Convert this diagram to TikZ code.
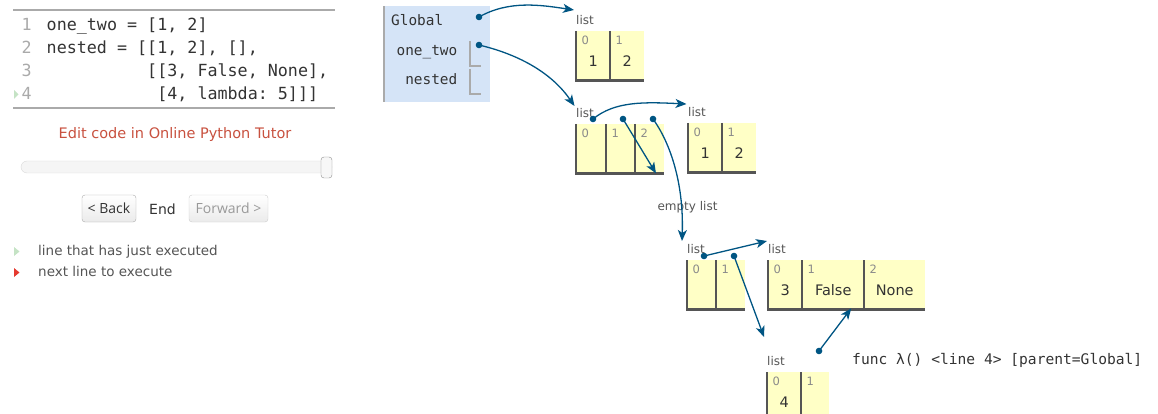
\documentclass[tikz,border=0pt]{standalone}
\usepackage{fontspec}
\setmainfont{DejaVu Sans}
\setmonofont{DejaVu Sans Mono}
\newfontfamily\btnfamily{Open Sans}
\usetikzlibrary{arrows.meta}
\usetikzlibrary{positioning}

\definecolor{ptrblue}{HTML}{005583}
\definecolor{framebg}{HTML}{D5E4F7}
\definecolor{heapbg}{HTML}{FFFFC6}
\definecolor{cellrule}{HTML}{555555}
\definecolor{idxgray}{HTML}{8A8A8A}
\definecolor{txtgray}{HTML}{555555}
\definecolor{darktxt}{HTML}{333333}
\definecolor{rulegray}{HTML}{AAAAAA}
\definecolor{editred}{HTML}{C8513F}
\definecolor{lightgreen}{HTML}{C5E3C5}
\definecolor{nextred}{HTML}{E53A30}

\newcommand\px[1]{\fontsize{#1}{#1}\selectfont}

\tikzset{
  txt/.style={inner sep=0pt, anchor=base west},
  code/.style={txt, font=\ttfamily\px{16.7}, text=darktxt},
  lineno/.style={inner sep=0pt, anchor=base east, font=\ttfamily\px{16.7}, text=rulegray},
  varname/.style={inner sep=0pt, anchor=base east, font=\ttfamily\px{14.4}, text=darktxt},
  lbl/.style={txt, font=\px{12}, text=txtgray},
  cell/.style={fill=heapbg, inner sep=0pt, anchor=north west, minimum height=49pt},
  cellline/.style={draw=cellrule, line width=2.6pt},
  idx/.style={inner sep=0pt, anchor=north west, font=\px{11.5}, text=idxgray},
  val/.style={inner sep=0pt, anchor=base, font=\px{14.5}, text=darktxt},
  ptr/.style={draw=ptrblue, line width=1.3pt, -{Stealth[length=11pt, width=9pt, inset=3pt]}},
  btn/.style={draw=rulegray, rounded corners=3pt, top color=white, bottom color=black!8,
    minimum height=27pt, inner sep=0pt, font=\btnfamily\px{14}},
}

\begin{document}
\begin{tikzpicture}[x=1pt, y=-1pt]
  \useasboundingbox (0,0) rectangle (1158,414);

  \draw[rulegray, line width=2pt] (13,10) -- (335,10);
  \draw[rulegray, line width=2pt] (13,108) -- (335,108);
  \foreach \n/\y in {1/31, 2/54, 3/76.5, 4/100}
    \node[lineno] (ln\n) at (32,\y) {\n};
  \fill[lightgreen] (14,90) -- (18.5,94.5) -- (14,99) -- cycle;
  \node[code] (code1) at (46.5,31) {one\_two = [1, 2]};
  \node[code] (code2) at (46.5,54) {nested = [[1, 2], [],};
  \node[code] (code3) at (46.5,76.5) {\phantom{0000000000}[[3, False, None],};
  \node[code] (code4) at (46.5,100) {\phantom{00000000000}[4, lambda: 5]]]};

  \node[inner sep=0pt, anchor=base, font=\px{14.5}, text=editred] (editlink) at (175,139) {Edit code in Online Python Tutor};

  \node[draw=black!15, fill=black!4, rounded corners=6pt, minimum width=311pt, minimum height=12pt, inner sep=0pt] (track) at (176.5,167) {};
  \node[draw=black!45, fill=black!3, rounded corners=3pt, minimum width=11pt, minimum height=21pt, inner sep=0pt] (knob) at (326.5,167.5) {};

  \node[btn, minimum width=54pt, text=darktxt] (back) at (109,208.5) {< Back};
  \node[txt, font=\px{14}, text=darktxt] (endlbl) at (149,214.5) {End};
  \node[btn, minimum width=79pt, draw=black!20, text=black!40] (fwd) at (228.5,208.5) {Forward >};

  \fill[lightgreen] (14,247) -- (19.5,251.5) -- (14,256) -- cycle;
  \fill[nextred] (14,268) -- (19.5,272.5) -- (14,277) -- cycle;
  \node[txt, font=\px{13.5}, text=txtgray] (legjust) at (38,255.5) {line that has just executed};
  \node[txt, font=\px{13.5}, text=txtgray] (legnext) at (38,276.5) {next line to execute};

  \node[fill=framebg, minimum width=107pt, minimum height=96pt, inner sep=0pt, anchor=north west] (gframe) at (383,6) {};
  \draw[rulegray, line width=2.2pt] ([xshift=1.2pt]gframe.north west) -- ([xshift=1.2pt]gframe.south west);
  \node[txt, font=\ttfamily\px{14.4}, text=darktxt] (globlbl) at (391,26) {Global};
  \node[varname] (vonetwo) at (457.5,56) {one\_two};
  \node[varname] (vnested) at (457.5,84.5) {nested};
  \draw[rulegray, line width=2pt] (470,41) |- (481,66);
  \draw[rulegray, line width=2pt] (470,69) |- (481,94);

  \foreach \nm/\x/\y/\w/\i/\v in {
      ot0/576/31/34/0/1, ot1/610/31/34/1/2,
      ns0/576/124/30/0/{}, ns1/606/124/29/1/{}, ns2/635/124/29/2/{},
      ia0/688/123/34/0/1, ia1/722/123/34/1/2,
      ib0/687/260/29/0/{}, ib1/716/260/29/1/{},
      ic0/768/260/34/0/3, ic1/802/260/62/1/False, ic2/864/260/61/2/None,
      id0/767/372/34/0/4, id1/801/372/28/1/{}} {
    \node[cell, minimum width=\w pt] (\nm) at (\x,\y) {};
    \draw[cellline] (\nm.north west) |- (\nm.south east);
    \node[idx] at ([shift={(5.5,5)}]\nm.north west) {\i};
    \node[val] at ([shift={(0,35.5)}]\nm.north) {\v};
  }
  \foreach \ls in {ot0, ns0, ia0, ib0, ic0, id0}
    \node[lbl] (\ls lbl) at ([shift={(0,-6.5)}]\ls.north west) {list};
  \node[lbl, anchor=base] (emptylbl) at (687.5,210) {empty list};
  \node[txt, font=\ttfamily\px{14.6}, text=darktxt] (funclbl) at (852,364) {func λ() <line 4> [parent=Global]};

  \coordinate (gdot1) at (479,17);
  \coordinate (gdot2) at (479,45);
  \coordinate (nsdot0) at (593,119);
  \coordinate (nsdot1) at (623,119);
  \coordinate (nsdot2) at (653,119);
  \coordinate (ibdot0) at (704,256);
  \coordinate (ibdot1) at (734,256);
  \coordinate (fndot) at (819,351);
  \coordinate (otin) at ([shift={(-2,-21)}]ot0.north west);
  \coordinate (nsin) at ([shift={(-1.5,-18)}]ns0.north west);
  \coordinate (iain) at ([shift={(-1.5,-19)}]ia0.north west);
  \coordinate (ibin) at ([shift={(-5,-19)}]ib0.north west);
  \coordinate (icin) at ([shift={(-1,-19)}]ic0.north west);
  \coordinate (idin) at ([shift={(-3,-35)}]id0.north west);
  \coordinate (icfn) at ([shift={(18,-1)}]ic1.south);
  \coordinate (nsend) at ([shift={(21,0)}]ns2.south west);

  \draw[ptr] (gdot1) .. controls +(30,-17) and +(-33,-5) .. (otin);
  \draw[ptr] (gdot2) .. controls +(42,10) and +(-22,-32) .. (nsin);
  \draw[ptr] (nsdot0) .. controls +(22,-18) and +(-42,-2) .. (iain);
  \draw[ptr] (nsdot1) -- (nsend);
  \draw[ptr] (nsdot2) .. controls +(16,22) and +(2,-60) .. (ibin);
  \draw[ptr] (ibdot0) -- (icin);
  \draw[ptr] (ibdot1) -- (idin);
  \draw[ptr] (fndot) -- (icfn);
  \foreach \d in {gdot1, gdot2, nsdot0, nsdot1, nsdot2, ibdot0, ibdot1, fndot}
    \fill[ptrblue] (\d) circle (3.3pt);
\end{tikzpicture}
\end{document}
